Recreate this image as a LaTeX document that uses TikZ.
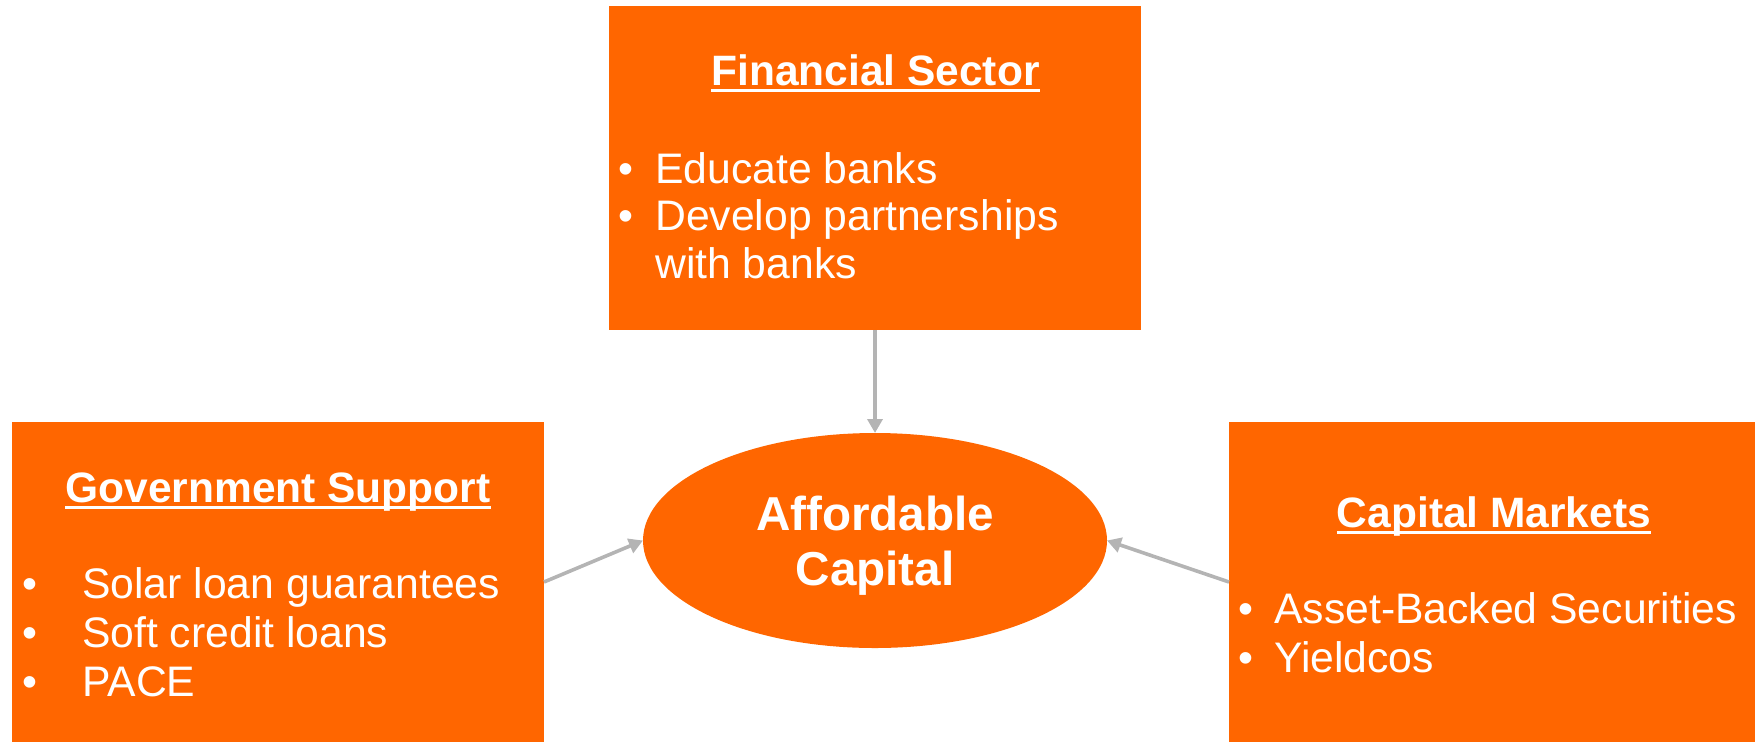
\documentclass[tikz,border=0pt]{standalone}
\usepackage{fontspec}
\setmainfont{Liberation Sans}
\usetikzlibrary{shapes.geometric,arrows.meta}
\definecolor{boxorange}{HTML}{FF6600}
\definecolor{linkgray}{HTML}{B4B4B4}
% underlined heading with a fixed rule position below the baseline
\newcommand\ulhead[1]{\setbox0=\hbox{#1}\rlap{\rule[-7pt]{\wd0}{3pt}}\box0}
\begin{document}
\begin{tikzpicture}[x=1pt,y=-1pt,
  panel/.style={rectangle,fill=boxorange,draw=none,inner sep=0,outer sep=0,anchor=north west},
  hub/.style={ellipse,fill=boxorange,draw=none,inner sep=0,outer sep=0,
    minimum width=464pt,minimum height=215pt},
  head/.style={text=white,inner sep=0,anchor=base,font=\fontsize{42.5}{48}\selectfont\bfseries},
  hubtext/.style={text=white,inner sep=0,anchor=base,font=\fontsize{47.6}{55}\selectfont\bfseries},
  item/.style={text=white,inner sep=0,anchor=base west,font=\fontsize{42.7}{48}\selectfont},
  dot/.style={text=white,inner sep=0,anchor=base,font=\fontsize{42.7}{48}\selectfont},
  link/.style={draw=linkgray,line width=3.6pt,-{Triangle[length=14pt,width=15pt]}}]
\useasboundingbox (0,0) rectangle (1755,742);

% panels
\node[panel,minimum width=532pt,minimum height=324pt] (fin) at (609,6) {};
\node[panel,minimum width=532pt,minimum height=320pt] (gov) at (12,422) {};
\node[panel,minimum width=526pt,minimum height=320pt] (cap) at (1229,422) {};
\node[hub] (hub) at (875,540.5) {};

% financial sector
\node[head] (finT) at (875.5,85) {\ulhead{Financial Sector}};
\node[dot] (finB1) at (626,183) {•};
\node[item] (finI1) at (655,183) {Educate banks};
\node[dot] (finB2) at (626,230) {•};
\node[item] (finI2) at (655,230) {Develop partnerships};
\node[item] (finI3) at (655,278) {with banks};

% government support
\node[head] (govT) at (278,502) {\ulhead{Government Support}};
\node[dot] (govB1) at (30,598) {•};
\node[item] (govI1) at (82,598) {Solar loan guarantees};
\node[dot] (govB2) at (30,647) {•};
\node[item] (govI2) at (82,647) {Soft credit loans};
\node[dot] (govB3) at (30,696) {•};
\node[item] (govI3) at (82,696) {PACE};

% capital markets
\node[head] (capT) at (1494,527) {\ulhead{Capital Markets}};
\node[dot] (capB1) at (1246,623) {•};
\node[item] (capI1) at (1274,623) {Asset-Backed Securities};
\node[dot] (capB2) at (1246,672) {•};
\node[item] (capI2) at (1274,672) {Yieldcos};

% centre
\node[hubtext] (hubT1) at (875,530) {Affordable};
\node[hubtext] (hubT2) at (875,585) {Capital};

% connectors
\draw[link] (fin.south) -- (hub.north);
\draw[link] (gov.east) -- (hub.west);
\draw[link] (cap.west) -- (hub.east);
\end{tikzpicture}
\end{document}
